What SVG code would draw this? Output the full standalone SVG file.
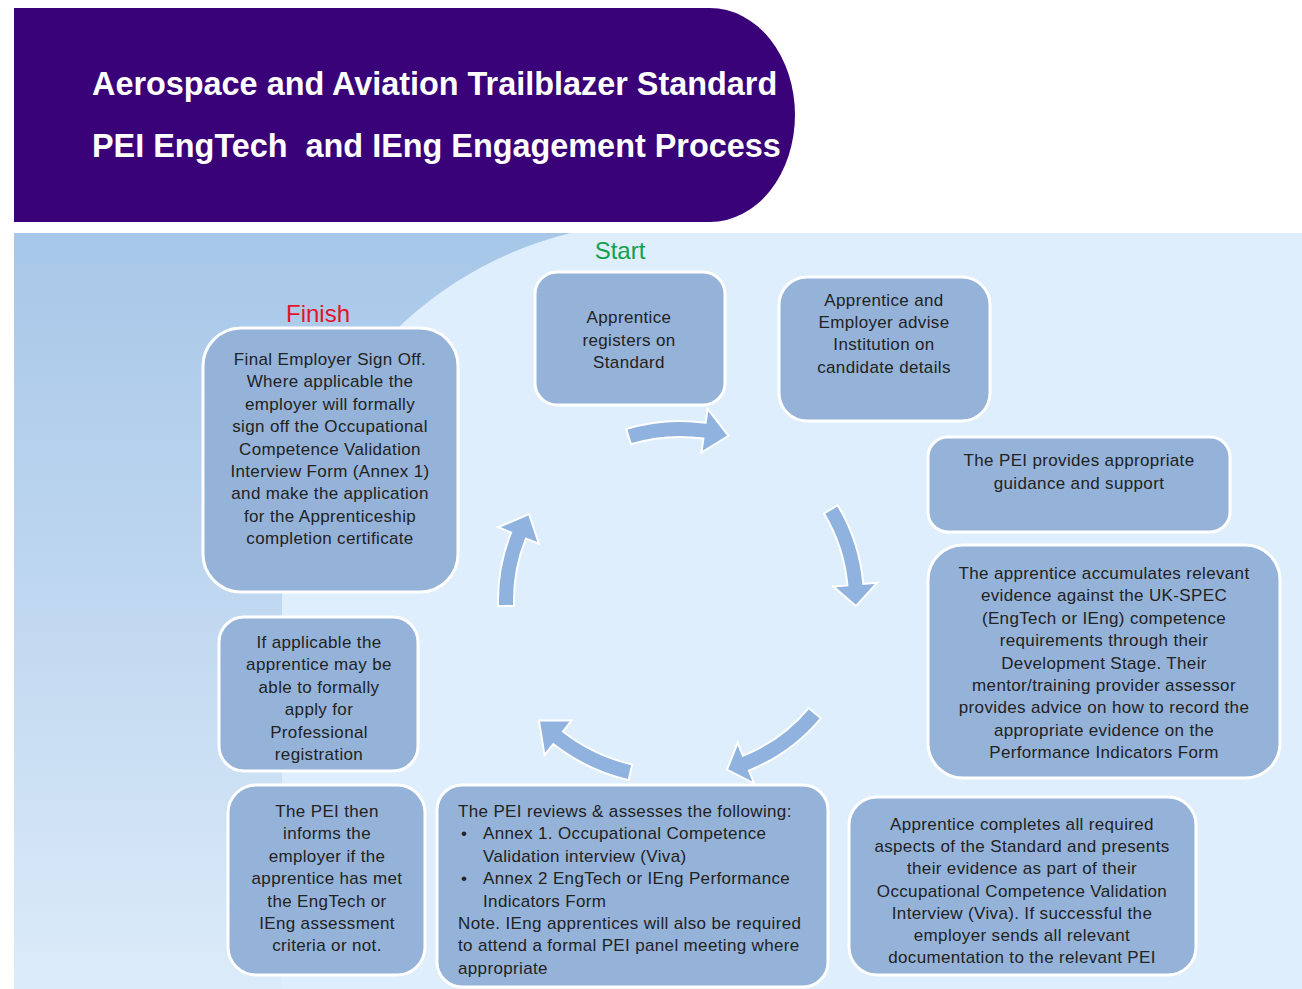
<svg xmlns="http://www.w3.org/2000/svg" width="1302" height="989" viewBox="0 0 1302 989">
<defs>
<linearGradient id="leftShade" gradientUnits="userSpaceOnUse" x1="0" y1="233" x2="0" y2="989">
<stop offset="0" stop-color="#a7c7e8"/>
<stop offset="0.5" stop-color="#c0d8f0"/>
<stop offset="1" stop-color="#dcebf9"/>
</linearGradient>
<style>
.box{fill:#95b3d9;stroke:#ffffff;stroke-width:3}
.arrow{fill:#8fb2df;stroke:#ffffff;stroke-width:2;stroke-linejoin:miter}
.t{font-family:"Liberation Sans",Arial,sans-serif;font-size:17px;fill:#222222;letter-spacing:0.35px}
.c{text-anchor:middle}
.title{font-family:"Liberation Sans",Arial,sans-serif;font-size:32.4px;font-weight:bold;fill:#ffffff}
.lbl{font-family:"Liberation Sans",Arial,sans-serif;font-size:24px;text-anchor:middle}
</style>
</defs>
<rect x="0" y="0" width="1302" height="989" fill="#ffffff"/>
<!-- header -->
<g id="header">
<path d="M14,8 H710 A85,107 0 0,1 710,222 H14 Z" fill="#3a0278"/>
<text class="title" x="92" y="95">Aerospace and Aviation Trailblazer Standard</text>
<text class="title" x="92" y="157" xml:space="preserve">PEI EngTech  and IEng Engagement Process</text>
</g>
<!-- background panel -->
<g id="panel">
<rect x="14" y="233" width="1288" height="756" fill="#deeefc"/>
<path d="M14,233 H571 A378,378 0 0,0 282,600 V989 H14 Z" fill="url(#leftShade)"/>
</g>
<!-- connectors -->
<g id="connectors">
<path class="arrow" transform="translate(0,5)" d="M626.2,424.0 A184,184 0 0,1 705.6,417.8 L707.6,403.9 L728.5,430.8 L701.4,447.5 L703.4,433.6 A168,168 0 0,0 630.9,439.3 Z"/>
<path class="arrow" d="M837.7,505.2 A184,184 0 0,1 863.3,584.0 L877.2,582.7 L855.9,606.1 L833.4,586.6 L847.4,585.4 A168,168 0 0,0 824.0,513.5 Z"/>
<path class="arrow" d="M820.9,718.3 A184,184 0 0,1 748.9,770.6 L754.2,783.6 L727.0,769.6 L737.7,742.8 L742.9,755.8 A168,168 0 0,0 808.7,708.0 Z"/>
<path class="arrow" d="M628.6,780.1 A193,193 0 0,1 553.2,744.1 L544.5,755.1 L538.9,720.5 L571.6,720.4 L563.0,731.5 A177,177 0 0,0 632.2,764.5 Z"/>
<path class="arrow" d="M498.1,606.3 A180,180 0 0,1 511.1,532.6 L498.1,527.3 L529.0,514.0 L538.9,543.8 L525.9,538.6 A164,164 0 0,0 514.1,605.7 Z"/>
</g>
<!-- labels -->
<text class="lbl" x="620" y="259" fill="#12a04e">Start</text>
<text class="lbl" x="318" y="322" fill="#e4132b">Finish</text>
<!-- nodes -->
<g id="n1">
<rect class="box" x="535" y="272" width="190" height="133" rx="22"/>
<text class="t c" x="629" y="323"><tspan x="629">Apprentice</tspan><tspan x="629" dy="22.5">registers on</tspan><tspan x="629" dy="22.5">Standard</tspan></text>
</g>
<g id="n2">
<rect class="box" x="779" y="277" width="211" height="144" rx="28"/>
<text class="t c" x="884" y="306"><tspan x="884">Apprentice and</tspan><tspan x="884" dy="22.2">Employer advise</tspan><tspan x="884" dy="22.2">Institution on</tspan><tspan x="884" dy="22.2">candidate details</tspan></text>
</g>
<g id="n3">
<rect class="box" x="928" y="437" width="302" height="95" rx="20"/>
<text class="t c" x="1079" y="466"><tspan x="1079">The PEI provides appropriate</tspan><tspan x="1079" dy="23">guidance and support</tspan></text>
</g>
<g id="n4">
<rect class="box" x="928" y="545" width="352" height="233" rx="35"/>
<text class="t c" x="1104" y="579"><tspan x="1104">The apprentice accumulates relevant</tspan><tspan x="1104" dy="22.4">evidence against the UK-SPEC</tspan><tspan x="1104" dy="22.4">(EngTech or IEng) competence</tspan><tspan x="1104" dy="22.4">requirements through their</tspan><tspan x="1104" dy="22.4">Development Stage. Their</tspan><tspan x="1104" dy="22.4">mentor/training provider assessor</tspan><tspan x="1104" dy="22.4">provides advice on how to record the</tspan><tspan x="1104" dy="22.4">appropriate evidence on the</tspan><tspan x="1104" dy="22.4">Performance Indicators Form</tspan></text>
</g>
<g id="n5">
<rect class="box" x="849" y="797" width="347" height="178" rx="28"/>
<text class="t c" x="1022" y="830"><tspan x="1022">Apprentice completes all required</tspan><tspan x="1022" dy="22.2">aspects of the Standard and presents</tspan><tspan x="1022" dy="22.2">their evidence as part of their</tspan><tspan x="1022" dy="22.2">Occupational Competence Validation</tspan><tspan x="1022" dy="22.2">Interview (Viva). If successful the</tspan><tspan x="1022" dy="22.2">employer sends all relevant</tspan><tspan x="1022" dy="22.2">documentation to the relevant PEI</tspan></text>
</g>
<g id="n6">
<rect class="box" x="437" y="785" width="391" height="202" rx="25"/>
<text class="t" x="458" y="817"><tspan x="458">The PEI reviews &amp; assesses the following:</tspan><tspan x="461" dy="22.4">•</tspan><tspan x="483">Annex 1. Occupational Competence</tspan><tspan x="483" dy="22.4">Validation interview (Viva)</tspan><tspan x="461" dy="22.4">•</tspan><tspan x="483">Annex 2 EngTech or IEng Performance</tspan><tspan x="483" dy="22.4">Indicators Form</tspan><tspan x="458" dy="22.4">Note. IEng apprentices will also be required</tspan><tspan x="458" dy="22.4">to attend a formal PEI panel meeting where</tspan><tspan x="458" dy="22.4">appropriate</tspan></text>
</g>
<g id="n7">
<rect class="box" x="228" y="785" width="197" height="190" rx="28"/>
<text class="t c" x="327" y="817"><tspan x="327">The PEI then</tspan><tspan x="327" dy="22.4">informs the</tspan><tspan x="327" dy="22.4">employer if the</tspan><tspan x="327" dy="22.4">apprentice has met</tspan><tspan x="327" dy="22.4">the EngTech or</tspan><tspan x="327" dy="22.4">IEng assessment</tspan><tspan x="327" dy="22.4">criteria or not.</tspan></text>
</g>
<g id="n8">
<rect class="box" x="219" y="617" width="199" height="154" rx="25"/>
<text class="t c" x="319" y="648"><tspan x="319">If applicable the</tspan><tspan x="319" dy="22.4">apprentice may be</tspan><tspan x="319" dy="22.4">able to formally</tspan><tspan x="319" dy="22.4">apply for</tspan><tspan x="319" dy="22.4">Professional</tspan><tspan x="319" dy="22.4">registration</tspan></text>
</g>
<g id="n9">
<rect class="box" x="203" y="328" width="255" height="264" rx="38"/>
<text class="t c" x="330" y="365"><tspan x="330">Final Employer Sign Off.</tspan><tspan x="330" dy="22.4">Where applicable the</tspan><tspan x="330" dy="22.4">employer will formally</tspan><tspan x="330" dy="22.4">sign off the Occupational</tspan><tspan x="330" dy="22.4">Competence Validation</tspan><tspan x="330" dy="22.4">Interview Form (Annex 1)</tspan><tspan x="330" dy="22.4">and make the application</tspan><tspan x="330" dy="22.4">for the Apprenticeship</tspan><tspan x="330" dy="22.4">completion certificate</tspan></text>
</g>
</svg>
